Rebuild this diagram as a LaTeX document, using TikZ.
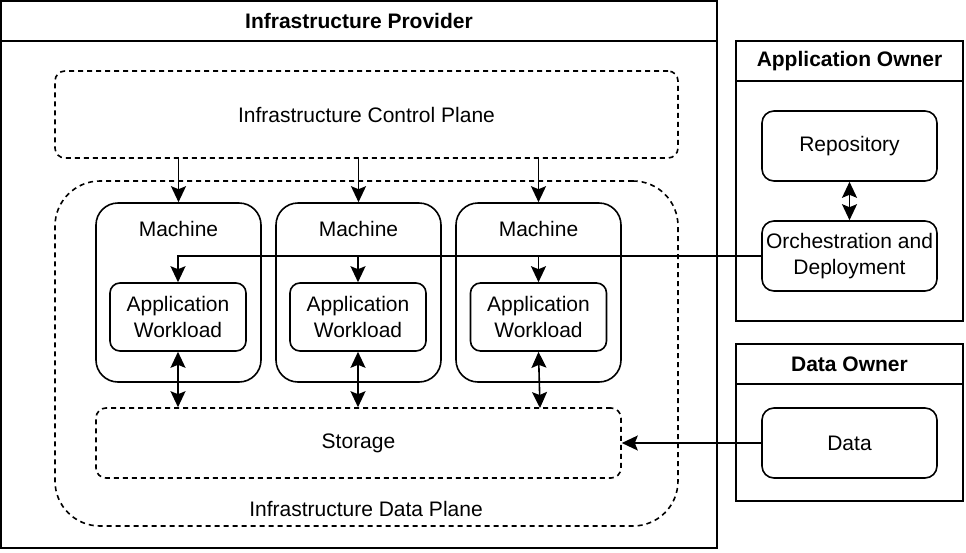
\documentclass[tikz,border=0pt]{standalone}
\usepackage{fontspec}
\setmainfont{Liberation Sans}
\usetikzlibrary{arrows.meta}
\begin{document}
\begin{tikzpicture}[x=1pt,y=-1pt,
  every node/.style={font=\fontsize{21}{26}\selectfont, align=center, inner sep=0pt},
  container/.style={draw, line width=1.6pt},
  solidr/.style={draw, line width=1.6pt, rounded corners=#1},
  dashr/.style={draw, line width=1.6pt, dash pattern=on 5pt off 4pt, rounded corners=#1},
  title/.style={font=\bfseries\fontsize{21}{26}\selectfont},
  conn/.style={line width=1.6pt},
  arr/.style={conn, -{Stealth[length=16pt,width=15pt,inset=3pt]}},
  darr/.style={conn, {Stealth[length=16pt,width=15pt,inset=3pt]}-{Stealth[length=16pt,width=15pt,inset=3pt]}}
]
\useasboundingbox (0,0) rectangle (966,552);

% Infrastructure Provider
\node[container, minimum width=716pt, minimum height=547pt] (prov) at (359,274.5) {};
\coordinate (provhl) at (1,41);
\coordinate (provhr) at (717,41);
\draw[conn] (provhl) -- (provhr);
\node[title] (provt) at (359,21) {Infrastructure Provider};

% Control plane
\node[dashr=10pt, minimum width=623pt, minimum height=87pt] (cp) at (366.5,114.5) {Infrastructure Control Plane};

% Data plane
\node[dashr=45pt, minimum width=623pt, minimum height=345pt] (dp) at (366.5,353.5) {};
\node (dpl) at (366,509) {Infrastructure Data Plane};

% Machines
\node[solidr=22pt, minimum width=165pt, minimum height=179pt] (m1) at (178.5,292.5) {};
\node[solidr=22pt, minimum width=165pt, minimum height=179pt] (m2) at (358.5,292.5) {};
\node[solidr=22pt, minimum width=165pt, minimum height=179pt] (m3) at (538.5,292.5) {};
\node (m1l) at (178.5,228.5) {Machine};
\node (m2l) at (358.5,228.5) {Machine};
\node (m3l) at (538.5,228.5) {Machine};

% Application workloads
\node[solidr=10pt, minimum width=136pt, minimum height=68pt] (aw1) at (178,317) {Application\\Workload};
\node[solidr=10pt, minimum width=136pt, minimum height=68pt] (aw2) at (358,317) {Application\\Workload};
\node[solidr=10pt, minimum width=136pt, minimum height=68pt] (aw3) at (538.5,317) {Application\\Workload};

% Storage
\node[dashr=10pt, minimum width=525pt, minimum height=70pt] (st) at (358.5,443) {Storage};

% Application Owner
\node[container, minimum width=227pt, minimum height=280pt] (ao) at (849.5,181) {};
\coordinate (aohl) at (736,81);
\coordinate (aohr) at (963,81);
\draw[conn] (aohl) -- (aohr);
\node[title] (aot) at (849.5,61.5) {Application Owner};
\node[solidr=12pt, minimum width=175pt, minimum height=70pt] (repo) at (849.5,146) {Repository};
\node[solidr=12pt, minimum width=175pt, minimum height=70pt] (orch) at (849.5,256) {Orchestration and\\Deployment};

% Data Owner
\node[container, minimum width=227pt, minimum height=157pt] (do) at (849.5,422.5) {};
\coordinate (dohl) at (736,384);
\coordinate (dohr) at (963,384);
\draw[conn] (dohl) -- (dohr);
\node[title] (dot) at (849.5,364.5) {Data Owner};
\node[solidr=12pt, minimum width=175pt, minimum height=70pt] (data) at (849.5,443) {Data};

% Connectors: control plane -> machines
\draw[arr] (m1.north |- cp.south) -- (m1.north);
\draw[arr] (m2.north |- cp.south) -- (m2.north);
\draw[arr] (m3.north |- cp.south) -- (m3.north);

% Orchestration -> workloads
\draw[arr] (orch.west) -- (aw1.north |- orch.west) -- (aw1.north);
\draw[arr] (aw2.north |- orch.west) -- (aw2.north);
\draw[arr] (aw3.north |- orch.west) -- (aw3.north);

% Workloads <-> storage
\draw[darr] (aw1.south) -- (aw1.south |- st.north);
\draw[darr] (aw2.south) -- (aw2.south |- st.north);
\coordinate (st3) at (540,408);
\draw[darr] (aw3.south) -- (st3);

% Repository <-> Orchestration
\draw[darr] (repo.south) -- (orch.north);

% Data -> Storage
\draw[arr] (data.west) -- (st.east);
\end{tikzpicture}
\end{document}
